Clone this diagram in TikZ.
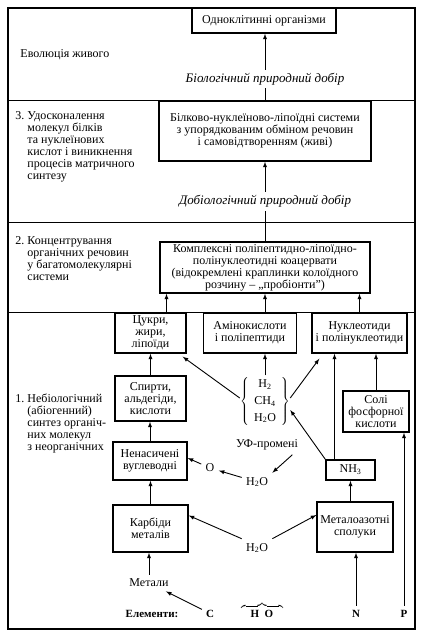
\documentclass[tikz,border=0pt]{standalone}
\usepackage{fontspec}
\setmainfont{Liberation Serif}

\begin{document}
\begin{tikzpicture}[x=1pt,y=-1pt,>=latex,line width=0.9pt,
    box/.style={draw=black,line width=1.4pt,align=center,inner sep=2pt},
    lbl/.style={anchor=base west,inner sep=0pt},
    sel/.style={fill=white,font=\fontsize{13}{13}\itshape,inner sep=3pt}]

      \fontsize{12}{12}\selectfont
      \useasboundingbox (0,0) rectangle (423,634);

      % frame and the four stages
      \draw[line width=1.2pt] (8,8) rectangle (415,629);
      \draw (8,100) -- (415,100);
      \draw (8,222) -- (415,222);
      \draw (8,312) -- (415,312);

      \node[lbl] (t4) at (20,57){Еволюція живого};
      \node[lbl] (t3) at (15,119){\begin{tabular}[t]{@{}l@{\ }l@{}}3. & Удосконалення\\ & молекул білків\\ & та нуклеїнових\\ & кислот і виникнення\\ & процесів матричного\\ & синтезу\end{tabular}};
      \node[lbl] (t2) at (15,244){\begin{tabular}[t]{@{}l@{\ }l@{}}2. & Концентрування\\ & органічних речовин\\ & у багатомолекулярні\\ & системи\end{tabular}};
      \node[lbl] (t1) at (15,402){\begin{tabular}[t]{@{}l@{\ }l@{}}1. & Небіологічний\\ & (абіогенний)\\ & синтез органіч-\\ & них молекул\\ & з неорганічних\end{tabular}};

      \node[box,minimum width=144,minimum height=25] (o1) at (264,20.5){Одноклітинні організми};
      \node[box,minimum width=212,minimum height=60] (b2) at (265,131){Білково-нуклеїново-ліпоїдні системи\\з упорядкованим обміном речовин\\і самовідтворенням (живі)};
      \node[box,minimum width=210,minimum height=51] (k3) at (265,267.5){Комплексні поліпептидно-ліпоїдно-\\полінуклеотидні коацервати\\(відокремлені краплинки колоїдного\\розчину -- „пробіонти”)};

      \node[box,minimum width=71,minimum height=40] (c1) at (150.5,333){Цукри,\\жири,\\ліпоїди};
      \node[box,minimum width=93,minimum height=40] (a1) at (250,333){Амінокислоти\\і поліпептиди};
      \node[box,minimum width=95,minimum height=40] (n1) at (359.5,333){Нуклеотиди\\і полінуклеотиди};
      \node[box,minimum width=71,minimum height=45] (s1) at (150.5,398.5){Спирти,\\альдегіди,\\кислоти};
      \node[box,minimum width=66,minimum height=41] (p1) at (376,411.5){Солі\\фосфорної\\кислоти};
      \node[box,minimum width=74,minimum height=38] (u1) at (150,461){Ненасичені\\вуглеводні};
      \node[box,minimum width=49,minimum height=20] (nh) at (350.5,470){NH\textsubscript{3}};
      \node[box,minimum width=75,minimum height=47] (kb) at (150.5,528.5){Карбіди\\металів};
      \node[box,minimum width=76,minimum height=50] (ma) at (355,527){Металоазотні\\сполуки};

      \node[inner sep=0pt] (hb) at (265,401){\renewcommand\arraystretch{1.4}$\left\{\hspace{5pt}\begin{tabular}{@{}c@{}}H\textsubscript{2}\\CH\textsubscript{4}\\H\textsubscript{2}O\end{tabular}\hspace{5pt}\right\}$};
      \node[] (uv) at (267,445){УФ-промені};
      \node[] (w1) at (257,482){H\textsubscript{2}O};
      \node[] (ox) at (210,468){O};
      \node[] (w2) at (257,548){H\textsubscript{2}O};
      \node[] (me) at (149,583){Метали};

      \fontsize{11}{12}\selectfont
      \node[anchor=base] (el) at (152,617){\bfseries Елементи:};
      \node[anchor=base] (ec) at (210,617){\bfseries C};
      \node[anchor=base] (eh) at (262,617){$\overbrace{\hbox to 42pt{\hfil\bfseries H\enspace O\hfil}}$};
      \node[anchor=base] (en) at (356,617){\bfseries N};
      \node[anchor=base] (ep) at (404,617){\bfseries P};

      \draw[->] (b2.north) -- node[sel,pos=0.32]{Біологічний природний добір} (b2.north |- o1.south);
      \draw[->] (k3.north) -- node[sel,pos=0.5]{Добіологічний природний добір} (k3.north |- b2.south);
      \draw[->] ([xshift=16pt]c1.north) -- ([xshift=16pt]c1.north |- k3.south);
      \draw[->] (k3.south |- a1.north) -- (k3.south);
      \draw[->] (n1.north) -- (n1.north |- k3.south);
      \draw[->] (s1.north) -- (s1.north |- c1.south);
      \draw[->] (u1.north) -- (u1.north |- s1.south);
      \draw[->] (kb.north) -- (kb.north |- u1.south);
      \draw[->] (me.north) -- (me.north |- kb.south);
      \draw[->] (ec) -- (me);
      \draw[->] (en.north) -- (en.north |- ma.south);
      \draw[->] (ep.north) -- (ep.north |- p1.south);
      \draw[->] (w2.north west) -- ([yshift=13pt]kb.east);
      \draw[->] (w2.north east) -- ([yshift=12pt]ma.west);
      \draw[->] (w1) -- (ox);
      \draw[->] (ox) -- ([yshift=3pt]u1.east);
      \draw[->] ([xshift=-10pt]uv.south east) -- (w1.north east);
      \draw[->] (nh.south |- ma.north) -- (nh.south);
      \draw[->] (nh.north west) -- ([yshift=-9pt]hb.east);
      \draw[->] ([xshift=-16pt]nh.north) -- ([xshift=-16pt]nh.north |- n1.south);
      \draw[->] (p1.north) -- (p1.north |- n1.south);
      \draw[->] (hb.north) -- (hb.north |- a1.south);
      \draw[->] ([yshift=3pt]hb.west) -- ([xshift=-4pt,yshift=-3pt]c1.south east);
      \draw[->] ([yshift=3pt]hb.east) -- ([xshift=8pt,yshift=-5pt]n1.south west);
    \end{tikzpicture}
\end{document}
